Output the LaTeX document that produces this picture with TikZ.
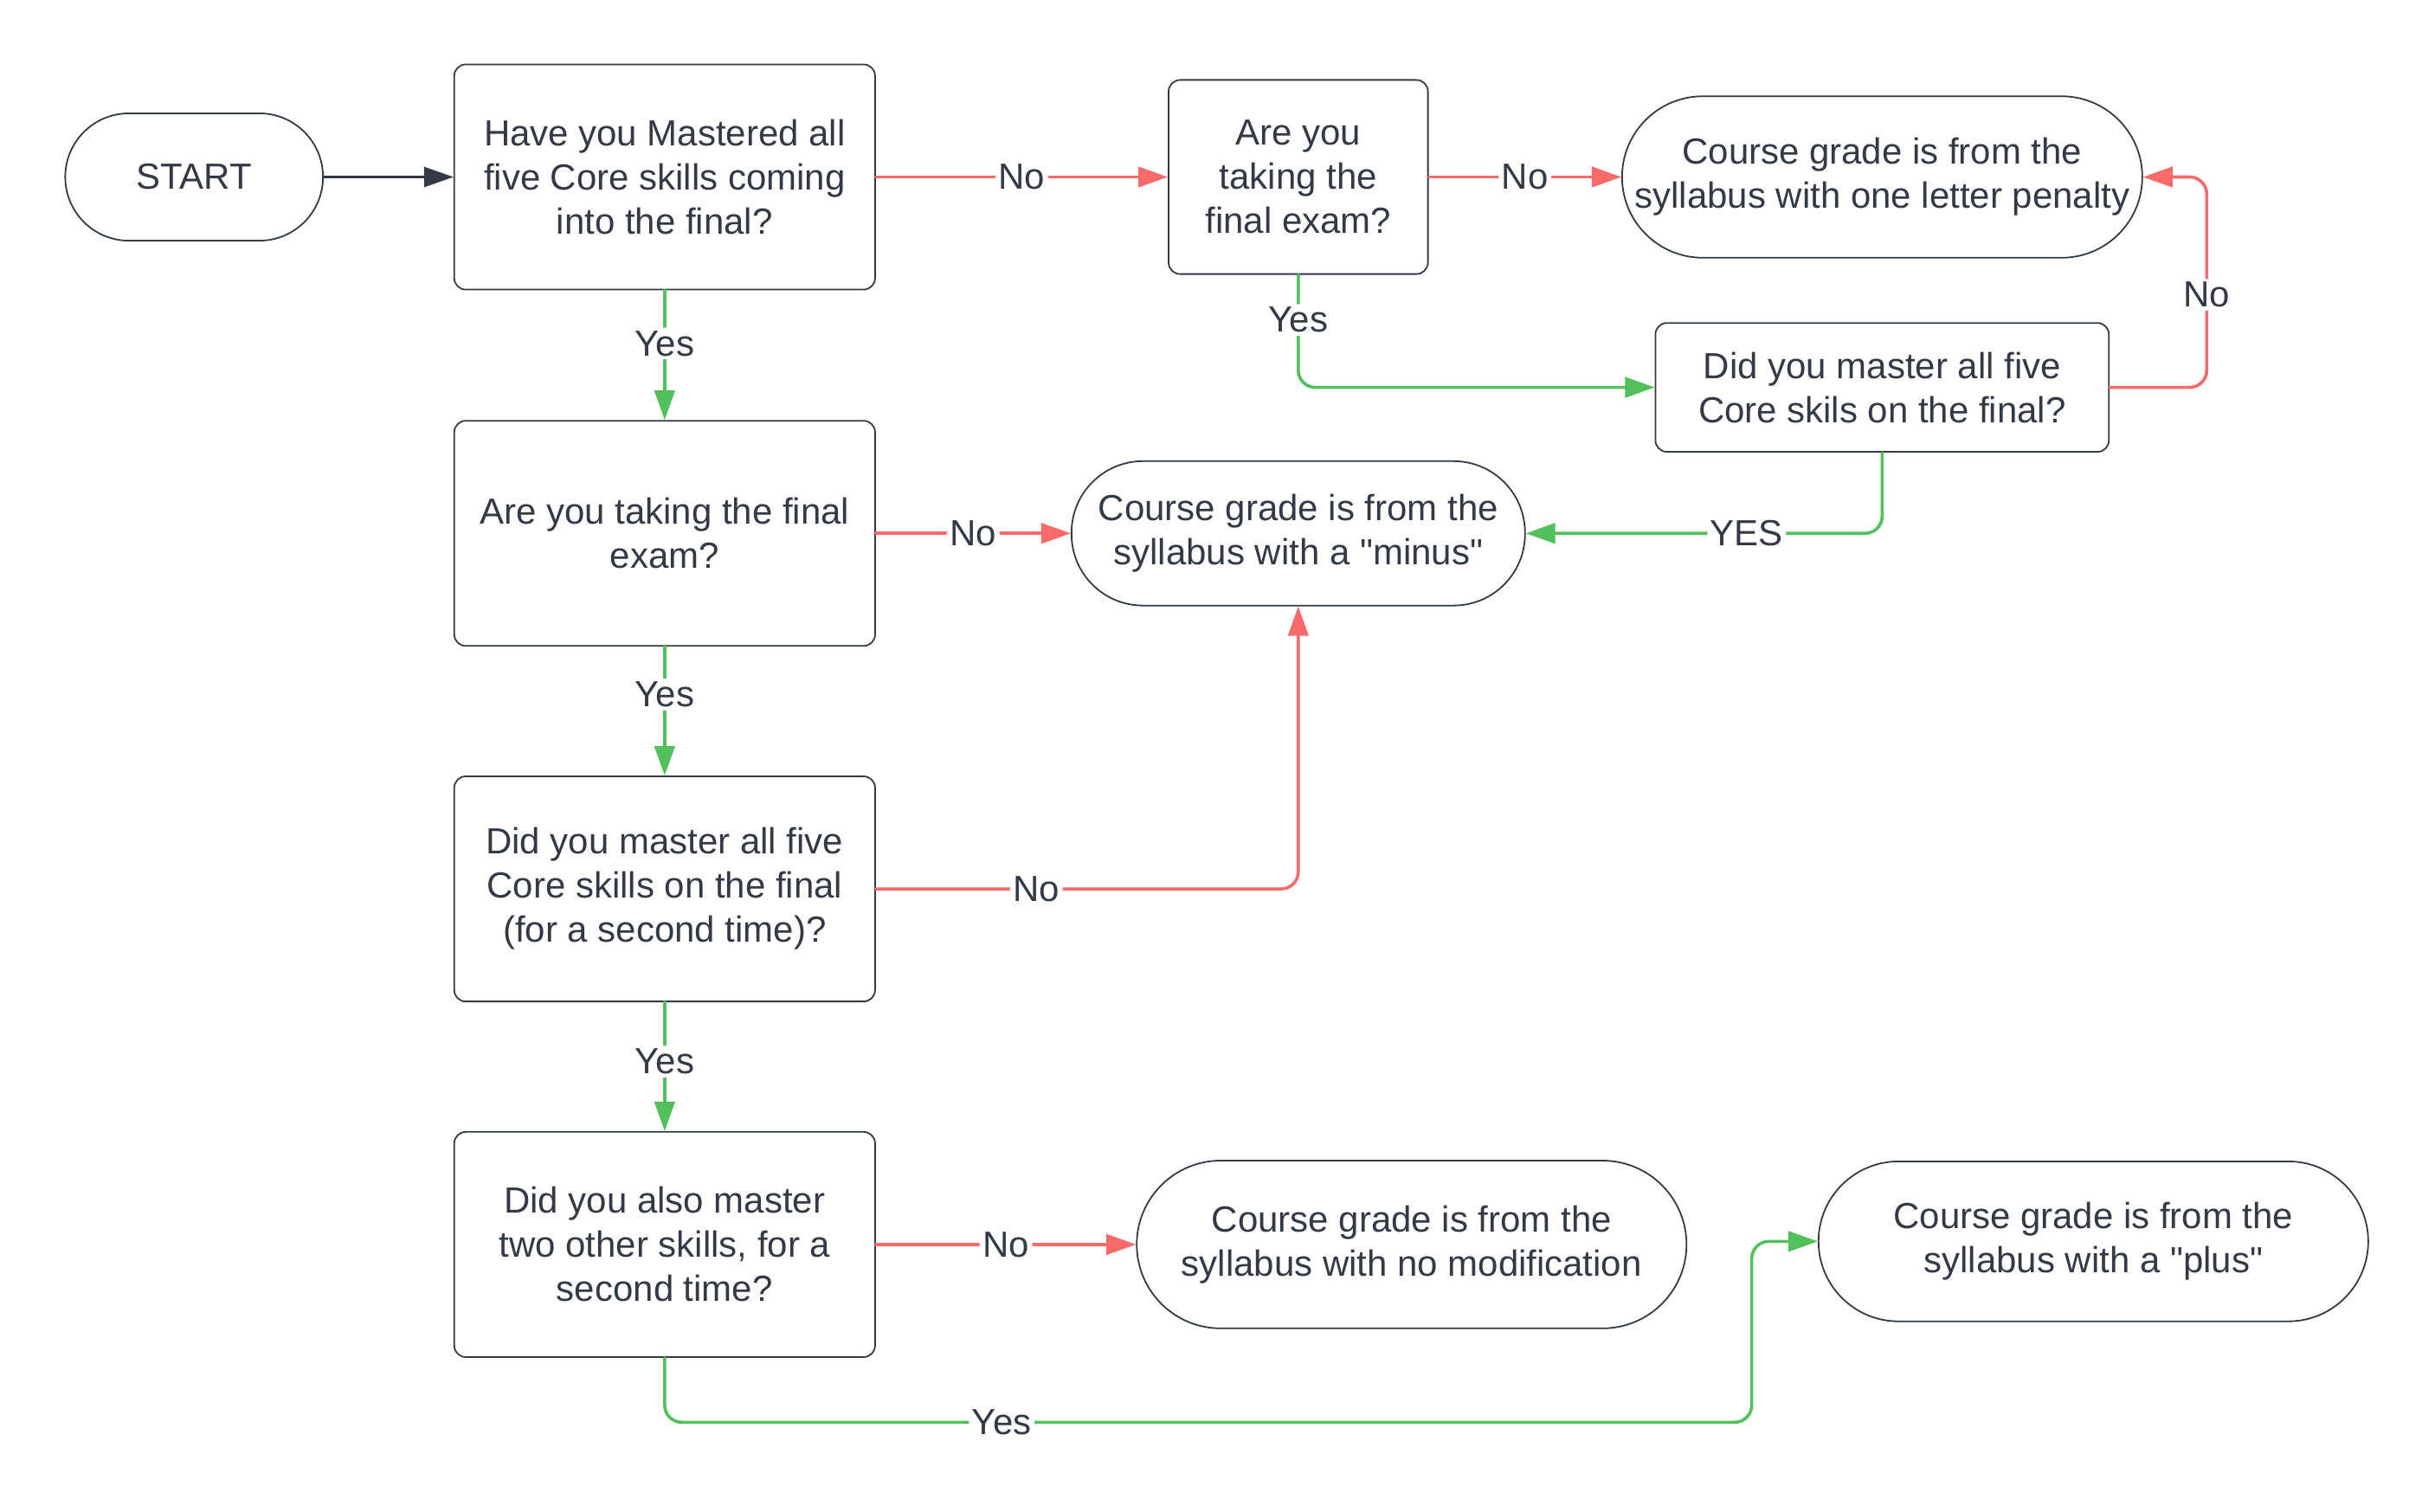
\documentclass[tikz,border=0pt]{standalone}
\usepackage{fontspec}
\setmainfont{Liberation Sans}[Ligatures=TeXOff]
\usepackage{xcolor}
\usetikzlibrary{arrows.meta,positioning}
\definecolor{inkgray}{HTML}{333A45}
\definecolor{nored}{HTML}{F96B6B}
\definecolor{yesgreen}{HTML}{52C15C}
\begin{document}
\begin{tikzpicture}[line cap=round,line join=round,x=0.5pt,y=-0.5pt,
    >={Triangle[length=9.5pt,width=6.5pt]},
    every node/.style={font=\fontsize{11.7}{14.2}\selectfont,text=inkgray},
    question/.style={draw=inkgray,line width=0.5pt,rounded corners=3.7pt,align=center,inner sep=2pt,minimum width=135.5pt,minimum height=72.5pt},
    terminal/.style={draw=inkgray,line width=0.5pt,align=center,inner sep=2pt},
    noline/.style={->,nored,line width=1pt,rounded corners=5.5pt},
    yesline/.style={->,yesgreen,line width=1pt,rounded corners=5.5pt},
    lbl/.style={fill=white,inner sep=1pt}]
                \useasboundingbox (0,0) rectangle (1568,973.3);
                \node[terminal,minimum width=83pt,minimum height=41pt,rounded corners=20.5pt] (start) at (125,114) {START};
                \node[question] (mastered) at (428,114) {Have you Mastered all\\five Core skills coming\\into the final?};
                \node[question,minimum width=83.5pt,minimum height=62.5pt] (takingA) at (836,114) {Are you\\taking the\\final exam?};
                \node[terminal,minimum width=167.5pt,minimum height=52pt,rounded corners=26pt] (penalty) at (1212,114) {Course grade is from the\\syllabus with one letter penalty};
                \node[question,minimum width=146pt,minimum height=41.5pt] (finalA) at (1212,249.5) {Did you master all five\\Core skils on the final?};
                \node[question] (takingB) at (428,343.5) {Are you taking the final\\exam?};
                \node[terminal,minimum width=146pt,minimum height=46.5pt,rounded corners=23pt] (minus) at (836,343.5) {Course grade is from the\\syllabus with a "minus"};
                \node[question] (second) at (428,572.5) {Did you master all five\\Core skills on the final\\(for a second time)?};
                \node[question] (other) at (428,801.5) {Did you also master\\two other skills, for a\\second time?};
                \node[terminal,minimum width=177pt,minimum height=54pt,rounded corners=27pt] (nomod) at (909,801.5) {Course grade is from the\\syllabus with no modification};
                \node[terminal,minimum width=177pt,minimum height=51.5pt,rounded corners=25.75pt] (plus) at (1348,799.5) {Course grade is from the\\syllabus with a "plus"};
                \coordinate (penturn) at (1421,249.5);
                \coordinate (plusturn) at (1128,916);
                \draw[->,inkgray,line width=0.6pt] (start) -- (mastered);
                \draw[noline] (mastered) -- node[lbl]{No} (takingA);
                \draw[noline] (takingA) -- node[lbl]{No} (penalty);
                \draw[yesline] (mastered) -- node[lbl,pos=0.41]{Yes} (takingB);
                \draw[yesline] (takingA.south) |- node[lbl,pos=0.2]{Yes} (finalA.west);
                \draw[noline] (finalA.east) -- (penturn) |- node[lbl,pos=0.22]{No} (penalty.east);
                \draw[yesline] (finalA.south) |- node[lbl,pos=0.69]{YES} (minus.east);
                \draw[noline] (takingB) -- node[lbl]{No} (minus);
                \draw[yesline] (takingB) -- node[lbl,pos=0.37]{Yes} (second);
                \draw[noline] (second.east) -| node[lbl,pos=0.19]{No} (minus.south);
                \draw[yesline] (second) -- node[lbl,pos=0.46]{Yes} (other);
                \draw[noline] (other) -- node[lbl]{No} (nomod);
                \draw[yesline] (other.south) |- node[lbl,pos=0.655]{Yes} (plusturn) |- (plus.west);
            \end{tikzpicture}
\end{document}
